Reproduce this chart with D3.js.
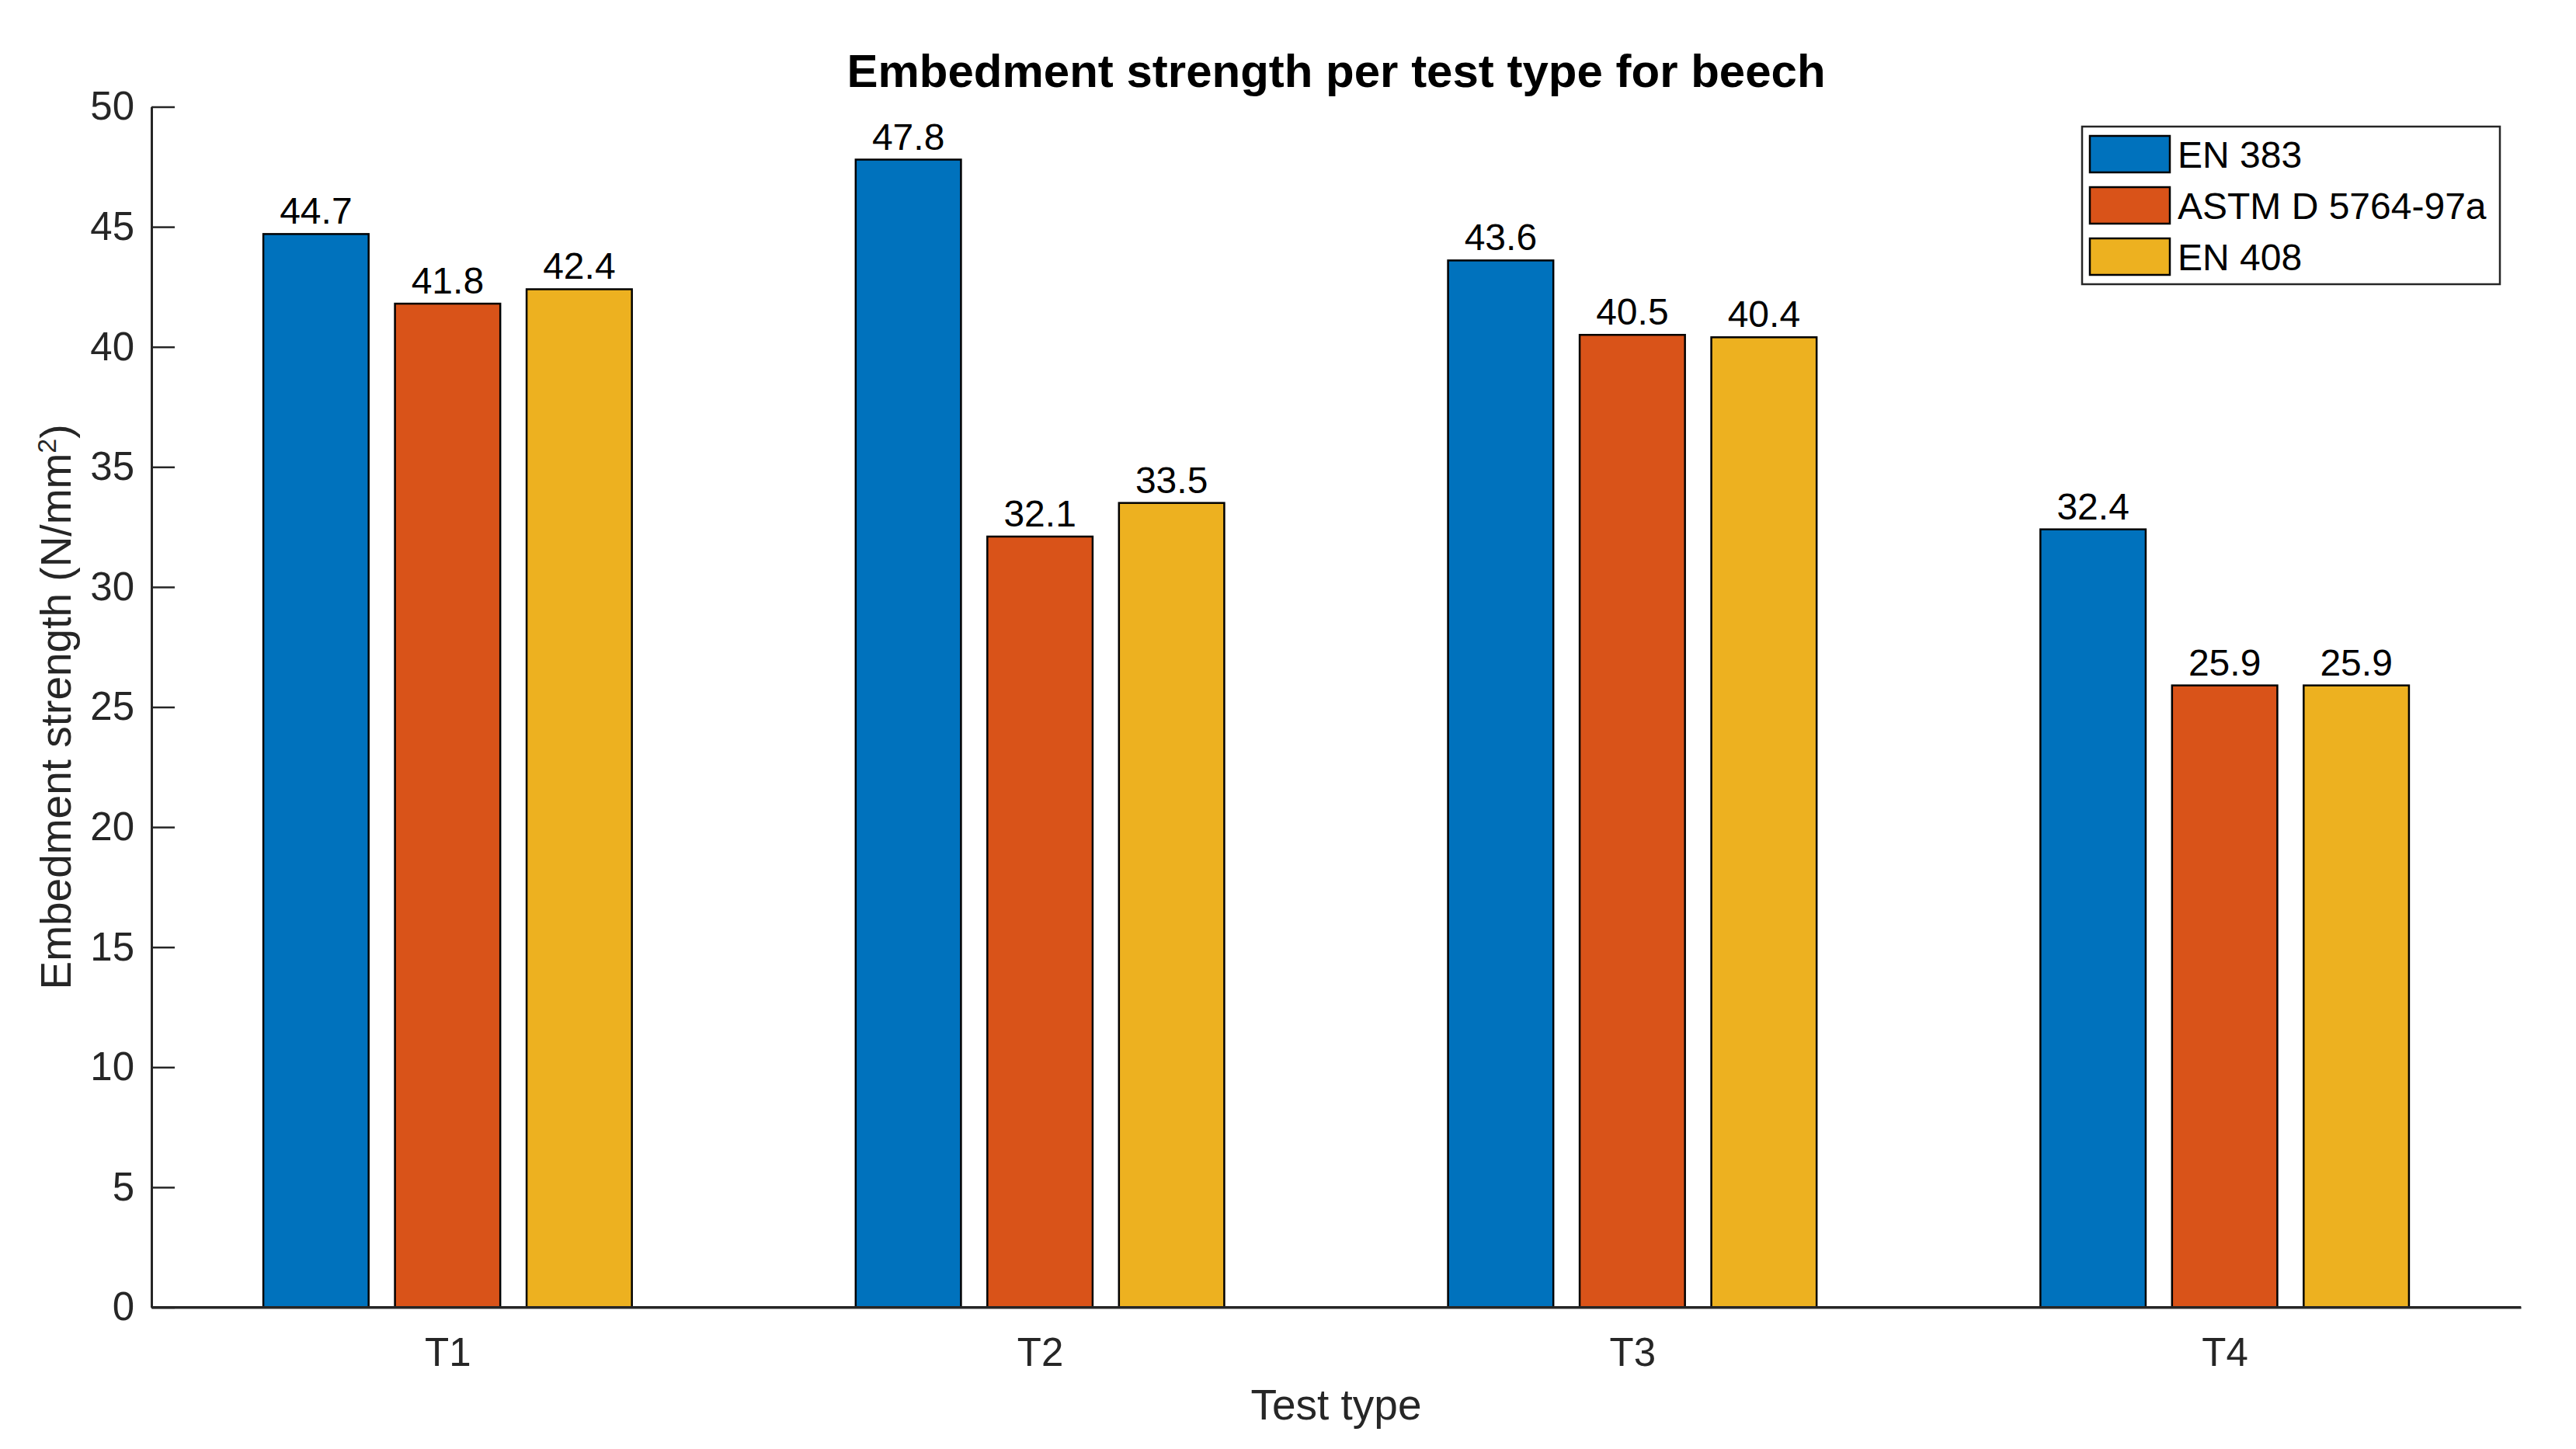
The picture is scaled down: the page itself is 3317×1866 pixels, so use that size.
<!DOCTYPE html>
<html>
<head>
<meta charset="utf-8">
<script src="https://cdn.jsdelivr.net/npm/d3@7.9.0/dist/d3.min.js"></script>
<style>
  html, body { margin: 0; padding: 0; background: #fff; }
  svg { display: block; font-family: "Liberation Sans", Arial, Helvetica, sans-serif; }
</style>
</head>
<body>
<svg id="chart" width="3317" height="1866"></svg>
<script>
// data
const testTypes = ["T1", "T2", "T3", "T4"];
const standards = ["EN 383", "ASTM D 5764-97a", "EN 408"];
const en383 = [44.7, 47.8, 43.6, 32.4];
const astm = [41.8, 32.1, 40.5, 25.9];
const en408 = [42.4, 33.5, 40.4, 25.9];
const yTicks = [0, 5, 10, 15, 20, 25, 30, 35, 40, 45, 50];
const colors = ["#0072BD", "#D95319", "#EDB120"];

const series = [en383, astm, en408];

const margin = { left: 195, right: 3317 - 3246, top: 137.5, bottom: 1866 - 1683.5 };
const width = 3317, height = 1866;
const axisColor = "#262626";

const svg = d3.select("#chart");

// x is numeric: categories at 1..4, limits 0.5..4.5 (like MATLAB bar)
const x = d3.scaleLinear()
    .domain([0.5, testTypes.length + 0.5])
    .range([margin.left, width - margin.right]);
const y = d3.scaleLinear()
    .domain([0, 50])
    .range([height - margin.bottom, margin.top]);

const nGroups = series.length;
const groupWidth = Math.min(0.8, nGroups / (nGroups + 1.5));
const slot = groupWidth / nGroups;
const barW = slot * 0.8;

// bars
series.forEach((vals, s) => {
    const offset = -groupWidth / 2 + slot * (s + 0.5);
    const g = svg.append("g");
    g.selectAll("rect")
        .data(vals)
        .enter()
        .append("rect")
        .attr("x", (d, i) => x(i + 1 + offset - barW / 2))
        .attr("width", x(barW) - x(0))
        .attr("y", d => y(d))
        .attr("height", d => y(0) - y(d))
        .attr("fill", colors[s])
        .attr("stroke", "#000")
        .attr("stroke-width", 2.5);

    // value labels on top
    g.selectAll("text")
        .data(vals)
        .enter()
        .append("text")
        .attr("x", (d, i) => x(i + 1 + offset))
        .attr("y", d => y(d) - 13)
        .attr("text-anchor", "middle")
        .attr("font-size", 48)
        .attr("fill", "#000")
        .text(d => d.toFixed(1));
});

// y axis (ticks point inward)
const yAxis = d3.axisLeft(y)
    .tickValues(yTicks)
    .tickSizeInner(-30)
    .tickSizeOuter(0)
    .tickPadding(22);
const gy = svg.append("g")
    .attr("transform", `translate(${margin.left},0)`)
    .call(yAxis);
gy.select(".domain").attr("stroke", axisColor).attr("stroke-width", 3);
gy.selectAll(".tick line").attr("stroke", axisColor).attr("stroke-width", 2.5);
gy.selectAll(".tick text")
    .attr("font-size", 51)
    .attr("fill", axisColor)
    .attr("font-family", "Liberation Sans, Arial, sans-serif")
    .attr("x", -22);

// x axis
const xAxis = d3.axisBottom(x)
    .tickValues(d3.range(1, testTypes.length + 1))
    .tickFormat(d => testTypes[d - 1])
    .tickSizeInner(-30)
    .tickSizeOuter(0)
    .tickPadding(0);
const gx = svg.append("g")
    .attr("transform", `translate(0,${height - margin.bottom})`)
    .call(xAxis);
gx.lower();
gx.select(".domain").attr("stroke", axisColor).attr("stroke-width", 3);
gx.selectAll(".tick line").attr("stroke", axisColor).attr("stroke-width", 2.5);
gx.selectAll(".tick text")
    .attr("font-size", 51)
    .attr("fill", axisColor)
    .attr("font-family", "Liberation Sans, Arial, sans-serif")
    .attr("y", 0)
    .attr("dy", 0)
    .attr("transform", "translate(0,75)");
// redraw bottom axis line on top of bars
svg.append("line")
    .attr("x1", margin.left).attr("x2", width - margin.right)
    .attr("y1", y(0)).attr("y2", y(0))
    .attr("stroke", axisColor).attr("stroke-width", 3);
gy.raise();

// axis labels
svg.append("text")
    .attr("x", (margin.left + width - margin.right) / 2)
    .attr("y", 1828)
    .attr("text-anchor", "middle")
    .attr("font-size", 55)
    .attr("fill", axisColor)
    .text("Test type");

svg.append("text")
    .attr("transform", `translate(91,${(y(0) + y(50)) / 2}) rotate(-90)`)
    .attr("text-anchor", "middle")
    .attr("font-size", 55)
    .attr("fill", axisColor)
    .html('Embedment strength (N/mm<tspan baseline-shift="super" font-size="34">2</tspan>)');

// title
svg.append("text")
    .attr("x", (margin.left + width - margin.right) / 2)
    .attr("y", 112)
    .attr("text-anchor", "middle")
    .attr("font-size", 60)
    .attr("font-weight", "bold")
    .attr("fill", "#000")
    .text("Embedment strength per test type for beech");

// legend
const legend = svg.append("g");
legend.append("rect")
    .attr("x", 2681).attr("y", 163)
    .attr("width", 3219 - 2681).attr("height", 366 - 163)
    .attr("fill", "#fff")
    .attr("stroke", axisColor)
    .attr("stroke-width", 2.5);
const rows = legend.selectAll("g.item")
    .data(standards)
    .enter()
    .append("g")
    .attr("class", "item")
    .attr("transform", (d, i) => `translate(2691,${175 + i * 66})`);
rows.append("rect")
    .attr("width", 103).attr("height", 47)
    .attr("fill", (d, i) => colors[i])
    .attr("stroke", "#000")
    .attr("stroke-width", 2.5);
rows.append("text")
    .attr("x", 113)
    .attr("y", 41)
    .attr("font-size", 48)
    .attr("fill", "#000")
    .text(d => d);
</script>
</body>
</html>
